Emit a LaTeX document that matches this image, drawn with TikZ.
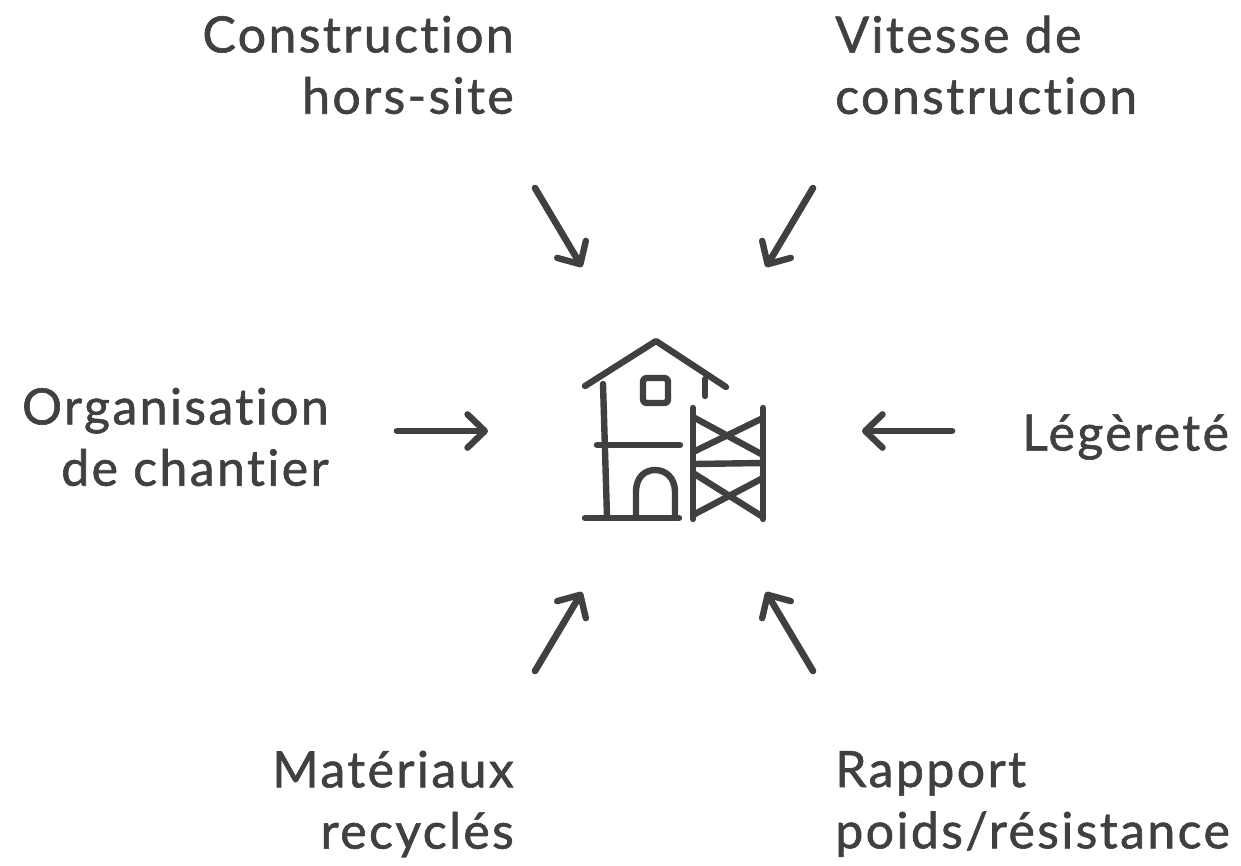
\documentclass[tikz,border=0pt]{standalone}
\usepackage{fontspec}
\setmainfont{Lato}[LetterSpace=4.8,FakeBold=1.2,Ligatures=NoCommon]
\usetikzlibrary{arrows.meta}
\definecolor{ink}{HTML}{404040}
\tikzset{
  lbl/.style={inner sep=0pt,text=ink,font=\fontsize{37.5}{46}\selectfont},
  lblr/.style={lbl,anchor=east,align=right},
  lbll/.style={lbl,anchor=west,align=left},
  arr/.style={draw=ink,line width=5pt,line cap=round,line join=round,-{Straight Barb[length=13pt,width=25pt,line width=4.8pt,round]}},
  ico/.style={draw=ink,line width=4.8pt,line cap=round,line join=round}
}
\begin{document}
\begin{tikzpicture}[x=0.75pt,y=-0.75pt]
\path[use as bounding box,fill=white] (0,0) rectangle (1241,865);
% labels
\node[lblr] (cons) at (514,65) {Construction\\hors-site};
\node[lbll] (vit) at (835,65) {Vitesse de\\construction};
\node[lblr] (org) at (329,437) {Organisation\\de chantier};
\node[lbll] (leg) at (1022,437) {Légèreté};
\node[lblr] (mat) at (514,804) {Matériaux\\recyclés};
\node[lbll] (rap) at (835,804) {Rapport\\poids/résistance};
% arrows
\coordinate (a1s) at (535,188); \coordinate (a1e) at (582,267);
\coordinate (a2s) at (813,188); \coordinate (a2e) at (766,267);
\coordinate (a3s) at (397,431); \coordinate (a3e) at (488,431);
\coordinate (a4s) at (952,431); \coordinate (a4e) at (862,431);
\coordinate (a5s) at (535,671); \coordinate (a5e) at (582,592);
\coordinate (a6s) at (813,671); \coordinate (a6e) at (766,592);
\foreach \s/\e in {a1s/a1e,a2s/a2e,a3s/a3e,a4s/a4e,a5s/a5e,a6s/a6e}
  \draw[arr] (\s) -- (\e);
% house icon
\draw[ico] (585,386) -- (656,341) -- (726,387);
\draw[ico] (603,384) -- (607,517);
\draw[ico] (705,379) -- (705,396);
\draw[ico] (585,518) -- (679,518);
\draw[ico] (597,445) -- (680,445);
\draw[ico,rounded corners=2.5pt] (643,378) rectangle (668,403);
\draw[ico] (636,517) -- (636,492) .. controls (636,476) and (646,470) .. (655,470) .. controls (666,470) and (675,478) .. (675,492) -- (675,517);
% scaffold
\draw[ico] (693,408) -- (693,519);
\draw[ico] (763,408) -- (763,519);
\draw[ico] (693,417) -- (763,455);
\draw[ico] (693,452) -- (763,418);
\draw[ico] (693,464) -- (763,463);
\draw[ico] (693,473) -- (763,517);
\draw[ico] (693,515) -- (763,478);
\end{tikzpicture}
\end{document}
